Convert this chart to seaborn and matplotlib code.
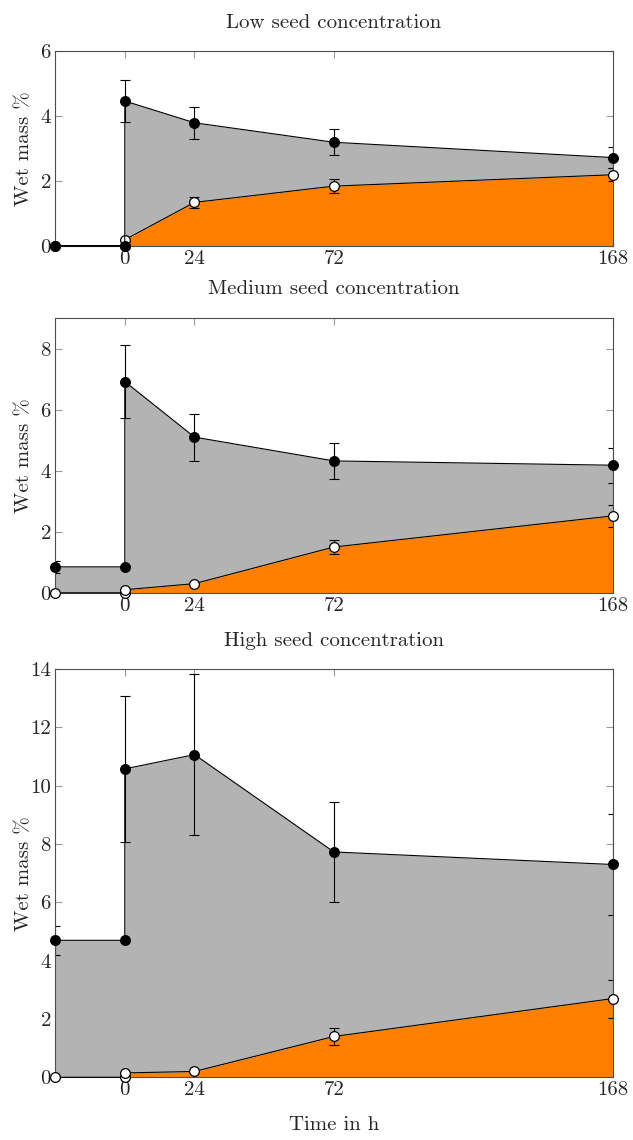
import matplotlib
matplotlib.use("Agg")
import matplotlib.pyplot as plt
import seaborn as sns

# time axis (h); the first point is the pre-seeding sample, 0 h appears twice
hours = [-24, 0, 0, 24, 72, 168]
xticks = [0, 24, 72, 168]

titles = ["Low seed concentration", "Medium seed concentration", "High seed concentration"]

# total wet mass (black markers) and its error
low_total = [0.02, 0.02, 4.47, 3.80, 3.20, 2.73]
low_total_err = [0, 0, 0.65, 0.50, 0.40, 0.33]
med_total = [0.85, 0.85, 6.92, 5.10, 4.32, 4.18]
med_total_err = [0.20, 0, 1.20, 0.77, 0.60, 0.57]
high_total = [4.70, 4.70, 10.58, 11.07, 7.73, 7.30]
high_total_err = [0.50, 0, 2.50, 2.75, 1.73, 1.73]

# fraction (white markers) and its error
low_part = [0.0, 0.0, 0.20, 1.35, 1.85, 2.20]
low_part_err = [0, 0, 0, 0.17, 0.22, 0.20]
med_part = [0.0, 0.0, 0.10, 0.30, 1.50, 2.52]
med_part_err = [0, 0, 0, 0, 0.22, 0.35]
high_part = [0.0, 0.0, 0.15, 0.20, 1.40, 2.70]
high_part_err = [0, 0, 0, 0, 0.30, 0.65]

ylims = [6, 9, 14]
yticks = [[0, 2, 4, 6], [0, 2, 4, 6, 8], [0, 2, 4, 6, 8, 10, 12, 14]]

sns.set_style("ticks")
plt.rcParams["font.family"] = ["cmr10", "DejaVu Serif"]
plt.rcParams["axes.formatter.use_mathtext"] = True
plt.rcParams["mathtext.fontset"] = "cm"
FS = 15

GRAY = "#b3b3b3"
ORANGE = "#ff8000"

fig = plt.figure(figsize=(6.33, 11.4), dpi=100)
boxes = [
    [0.087, 0.784, 0.881, 0.171],
    [0.087, 0.480, 0.881, 0.241],
    [0.087, 0.055, 0.881, 0.358],
]

panels = [
    (low_total, low_total_err, low_part, low_part_err),
    (med_total, med_total_err, med_part, med_part_err),
    (high_total, high_total_err, high_part, high_part_err),
]

for i, (total, total_err, part, part_err) in enumerate(panels):
    ax = fig.add_axes(boxes[i])

    ax.fill_between(hours, 0, part, color=ORANGE, lw=0, zorder=1)
    ax.fill_between(hours, part, total, color=GRAY, lw=0, zorder=1)

    ax.errorbar(hours, part, yerr=part_err, fmt="none", ecolor="black",
                elinewidth=0.8, capsize=3.5, capthick=0.8, zorder=2)
    ax.errorbar(hours, total, yerr=total_err, fmt="none", ecolor="black",
                elinewidth=0.8, capsize=3.5, capthick=0.8, zorder=2)

    sns.lineplot(x=hours, y=part, sort=False, estimator=None, ax=ax,
                 color="black", lw=0.8, marker="o", markersize=7,
                 markerfacecolor="white", markeredgecolor="black",
                 markeredgewidth=0.9, zorder=6, clip_on=False)
    sns.lineplot(x=hours, y=total, sort=False, estimator=None, ax=ax,
                 color="black", lw=0.8, marker="o", markersize=7,
                 markerfacecolor="black", markeredgecolor="black",
                 markeredgewidth=0.9, zorder=7, clip_on=False)

    ax.set_xlim(-24, 168)
    ax.set_ylim(0, ylims[i])
    ax.set_xticks(xticks)
    ax.set_xticklabels([str(t) for t in xticks], fontsize=FS)
    ax.set_yticks(yticks[i])
    ax.set_yticklabels([str(t) for t in yticks[i]], fontsize=FS)
    ax.tick_params(direction="in", top=True, right=True, length=5,
                   width=0.8, color="#9a9a9a", pad=3)
    for sp in ax.spines.values():
        sp.set_color("#4d4d4d")
        sp.set_linewidth(0.8)
        sp.set_zorder(5)

    ax.set_title(titles[i], fontsize=FS, pad=17)
    ax.set_ylabel("Wet mass %", fontsize=FS)
    ax.yaxis.set_label_coords(-0.04, 0.5)
    ax.set_xlabel("")

ax.set_xlabel("Time in h", fontsize=FS, labelpad=12)

fig.savefig("out.png", dpi=100)
